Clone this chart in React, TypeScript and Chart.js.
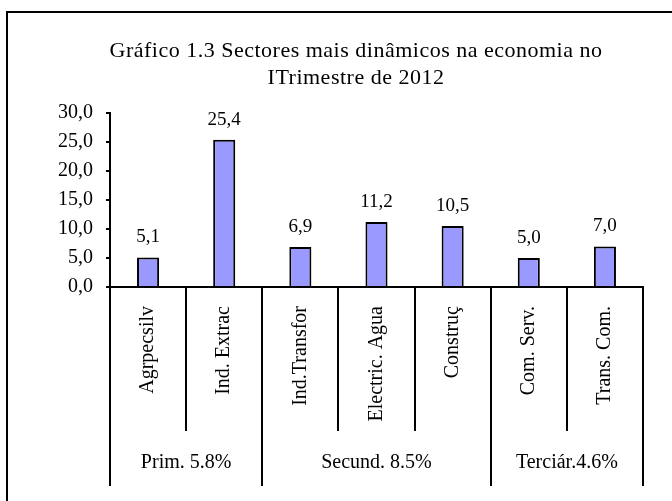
import { useEffect, useRef } from "react";
import { Chart, registerables } from "chart.js";

Chart.register(...registerables);

const titleLines = [
  "Gráfico 1.3 Sectores mais dinâmicos na economia no",
  "ITrimestre de 2012",
];
const categories = [
  "Agrpecsilv",
  "Ind. Extrac",
  "Ind.Transfor",
  "Electric. Agua",
  "Construç",
  "Com. Serv.",
  "Trans. Com.",
];
const values = [5.1, 25.4, 6.9, 11.2, 10.5, 5.0, 7.0];
const groupLabels = ["Prim. 5.8%", "Secund. 8.5%", "Terciár.4.6%"];
const groupSizes = [2, 3, 2];
const yMin = 0;
const yMax = 30;
const yStep = 5;

const FONT = "'Liberation Serif', 'Times New Roman', serif";
const fmt = (v: number) => v.toFixed(1).replace(".", ",");

const overlayPlugin = {
  id: "overlay",
  afterDraw(chart: any) {
    const ctx = chart.ctx as CanvasRenderingContext2D;
    const xs = chart.scales.x;
    const area = chart.chartArea;
    const w = xs.getPixelForValue(1) - xs.getPixelForValue(0);
    const left0 = xs.getPixelForValue(0) - w / 2;
    const bounds = [0];
    let acc = 0;
    groupSizes.forEach((s) => {
      acc += s;
      bounds.push(acc);
    });
    ctx.save();
    // title
    ctx.fillStyle = "#000";
    ctx.font = `22px ${FONT}`;
    ctx.textAlign = "center";
    ctx.textBaseline = "alphabetic";
    (ctx as any).letterSpacing = "0.5px";
    titleLines.forEach((line, i) => {
      ctx.fillText(line, 356, 57 + i * 27);
    });
    (ctx as any).letterSpacing = "0px";

    ctx.strokeStyle = "#000";
    ctx.lineWidth = 2;
    for (let i = 0; i <= categories.length; i++) {
      const px = Math.round(left0 + i * w);
      const isGroup = bounds.includes(i);
      const yEnd = isGroup ? area.bottom + 199 : area.bottom + 144;
      ctx.beginPath();
      ctx.moveTo(px, area.bottom);
      ctx.lineTo(px, yEnd);
      ctx.stroke();
    }
    // group labels
    ctx.font = `20px ${FONT}`;
    ctx.textAlign = "center";
    ctx.textBaseline = "middle";
    for (let g = 0; g < groupLabels.length; g++) {
      const cx = left0 + ((bounds[g] + bounds[g + 1]) / 2) * w;
      ctx.fillText(groupLabels[g], cx, area.bottom + 176);
    }
    // value labels
    ctx.font = `19px ${FONT}`;
    ctx.textBaseline = "alphabetic";
    const meta = chart.getDatasetMeta(0);
    meta.data.forEach((bar: any, i: number) => {
      ctx.fillText(fmt(values[i]), bar.x, bar.y - 15);
    });
    // outer frame
    ctx.lineWidth = 2;
    ctx.strokeRect(7, 12, 700, 520);
    ctx.restore();
  },
};

export default function App() {
  const ref = useRef<HTMLCanvasElement | null>(null);
  useEffect(() => {
    document.body.style.margin = "0";
    if (!ref.current) return;
    Chart.defaults.color = "#000";
    const chart = new Chart(ref.current, {
      type: "bar",
      data: {
        labels: categories,
        datasets: [
          {
            data: values,
            backgroundColor: "#9999FF",
            borderColor: "#000",
            borderWidth: 2,
            barPercentage: 0.29,
            categoryPercentage: 1,
          },
        ],
      },
      options: {
        animation: false,
        responsive: false,
        devicePixelRatio: 1,
        layout: { padding: { left: 0, right: 29, top: 113, bottom: 0 } },
        plugins: {
          legend: { display: false },
          tooltip: { enabled: false },
          title: { display: false },
        },
        scales: {
          x: {
            afterFit: (s: any) => {
              s.height = 214;
            },
            grid: { display: false, drawTicks: false },
            border: { display: true, color: "#000", width: 2 },
            ticks: {
              autoSkip: false,
              minRotation: 90,
              maxRotation: 90,
              padding: 19,
              color: "#000",
              font: { family: FONT, size: 20 },
            },
          },
          y: {
            min: yMin,
            max: yMax,
            afterFit: (s: any) => {
              s.width = 110;
            },
            grid: {
              display: true,
              drawOnChartArea: false,
              drawTicks: true,
              tickLength: 4,
              color: "#000",
              lineWidth: 2,
            },
            border: { display: true, color: "#000", width: 2 },
            ticks: {
              stepSize: yStep,
              padding: 13,
              color: "#000",
              font: { family: FONT, size: 20 },
              callback: (v: any) => fmt(Number(v)),
            },
          },
        },
      },
      plugins: [overlayPlugin],
    });
    return () => chart.destroy();
  }, []);
  return (
    <div style={{ width: 672, height: 501 }}>
      <canvas ref={ref} width={672} height={501} style={{ display: "block" }} />
    </div>
  );
}
